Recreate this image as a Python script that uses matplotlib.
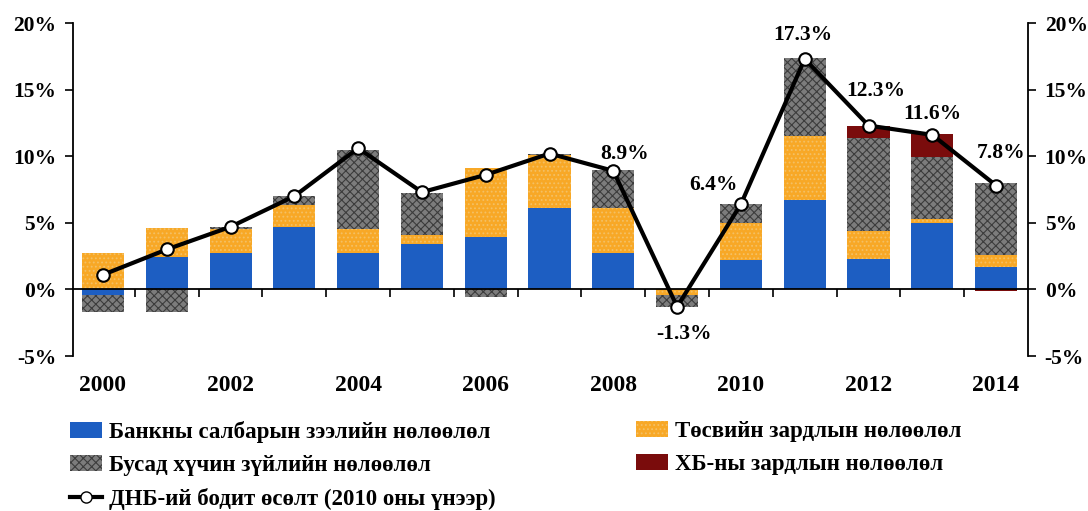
import matplotlib
matplotlib.use('Agg')
import matplotlib.pyplot as plt
import numpy as np
from matplotlib.patches import Patch
from matplotlib.lines import Line2D

plt.rcParams['font.family'] = ['Liberation Serif', 'DejaVu Serif']
plt.rcParams['font.weight'] = 'bold'
plt.rcParams['hatch.linewidth'] = 0.8

years = [2000, 2001, 2002, 2003, 2004, 2005, 2006, 2007, 2008, 2009, 2010, 2011, 2012, 2013, 2014]
bank = [-0.4, 2.4, 2.7, 4.7, 2.7, 3.4, 3.9, 6.1, 2.7, 0.0, 2.2, 6.7, 2.3, 5.0, 1.7]
budget = [2.7, 2.2, 1.8, 1.6, 1.8, 0.7, 5.2, 4.0, 3.4, -0.4, 2.8, 4.8, 2.1, 0.25, 0.9]
other = [-1.3, -1.7, 0.2, 0.7, 6.0, 3.1, -0.55, 0.1, 2.85, -0.9, 1.4, 5.9, 7.0, 4.7, 5.4]
dbm = [0, 0, 0, 0, 0, 0, 0, 0, 0, 0, 0, 0, 0.9, 1.75, -0.1]
gdp = [1.1, 3.0, 4.7, 7.0, 10.6, 7.3, 8.6, 10.2, 8.9, -1.3, 6.4, 17.3, 12.3, 11.6, 7.8]

names = ['Банкны салбарын зээлийн нөлөөлөл', 'Төсвийн зардлын нөлөөлөл',
         'Бусад хүчин зүйлийн нөлөөлөл', 'ХБ-ны зардлын нөлөөлөл',
         'ДНБ-ий бодит өсөлт (2010 оны үнээр)']

# labelled points: year -> pixel offset of the label
lab_off = {2008: (11, 17), 2009: (7, -27), 2010: (-27, 19), 2011: (-2, 24),
           2012: (7, 35), 2013: (0, 21), 2014: (5, 33)}

c_blue = '#1d5ec2'
c_orange = '#f8a826'
c_grey = '#7c7c7c'
c_red = '#7a0c0c'

fig = plt.figure(figsize=(10.88, 5.11), dpi=100)
ax = fig.add_axes([73/1088, 1-356/511, (1028-73)/1088, (356-23)/511])

x = np.arange(len(years))
w = 0.66
pos = np.zeros(len(years))
neg = np.zeros(len(years))
series = [(bank, c_blue, None, c_blue), (budget, c_orange, '....', '#f4c064'),
          (other, c_grey, 'xxxx', '#3c3c3c'), (dbm, c_red, None, c_red)]
for vals, fc, h, ec in series:
    v = np.array(vals, dtype=float)
    base = np.where(v >= 0, pos, neg)
    ax.bar(x, v, w, bottom=base, color=fc, hatch=h, edgecolor=ec, linewidth=0, zorder=2)
    pos = pos + np.where(v > 0, v, 0)
    neg = neg + np.where(v < 0, v, 0)

ax.plot(x, gdp, color='black', lw=3, marker='o', ms=9, mfc='white', mec='black', mew=1.5, zorder=4)

for i, yr in enumerate(years):
    if yr in lab_off:
        ax.annotate('%.1f%%' % gdp[i], (x[i], gdp[i]), xytext=lab_off[yr],
                    textcoords='offset pixels', ha='center', va='center',
                    fontsize=15.5, fontweight='bold', zorder=5)

ax.set_xlim(-0.47, 14.5)
ax.set_ylim(-5, 20)
ax.set_yticks([-5, 0, 5, 10, 15, 20])
ax.set_yticklabels(['%d%%' % t for t in [-5, 0, 5, 10, 15, 20]], fontsize=15.5, fontweight='bold')
ax.tick_params(axis='y', which='both', left=True, right=True, labelleft=True, labelright=True,
               direction='out', length=6, width=1.2, pad=6)
ax.spines['top'].set_visible(False)
ax.spines['bottom'].set_position(('data', 0))
ax.spines['bottom'].set_zorder(3)
for s in ['left', 'right', 'bottom']:
    ax.spines[s].set_linewidth(1.3)
ax.set_xticks(x[:-1] + 0.5)
ax.set_xticklabels([])
ax.tick_params(axis='x', direction='out', length=6, width=1.2)
for i, yr in enumerate(years):
    if yr % 2 == 0:
        ax.text(x[i], -7.2, str(yr), ha='center', va='center', fontsize=17,
                fontweight='bold', clip_on=False)

h1 = [Patch(facecolor=c_blue, edgecolor=c_blue, lw=0),
      Patch(facecolor=c_grey, edgecolor='#3c3c3c', hatch='xxxx', lw=0),
      Line2D([], [], color='black', lw=3, marker='o', ms=8, mfc='white', mec='black')]
h2 = [Patch(facecolor=c_orange, edgecolor='#f4c064', hatch='....', lw=0),
      Patch(facecolor=c_red, edgecolor=c_red, lw=0)]
leg_kw = dict(frameon=False, handlelength=1.4, handleheight=0.7,
              handletextpad=0.3, labelspacing=0.52, borderaxespad=0, borderpad=0,
              prop={'weight': 'bold', 'size': 16.5})
l1 = fig.legend(h1, [names[0], names[2], names[4]], loc='upper left',
                bbox_to_anchor=(70/1088, 1-421/511), **leg_kw)
l2 = fig.legend(h2, [names[1], names[3]], loc='upper left',
                bbox_to_anchor=(636/1088, 1-421/511), **leg_kw)

fig.savefig('out.png', dpi=100)
